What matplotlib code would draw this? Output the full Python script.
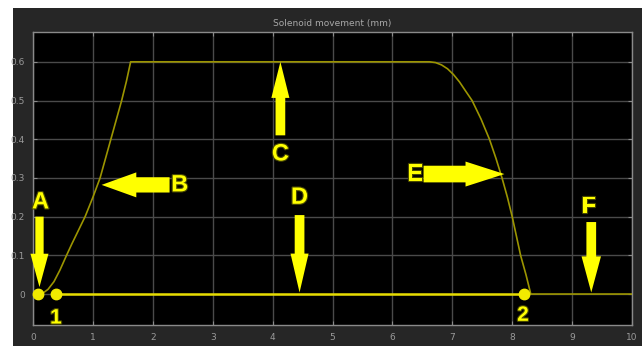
import matplotlib
matplotlib.use("Agg")
import matplotlib.pyplot as plt
from matplotlib.patches import Rectangle
import matplotlib.patheffects as pe

# ---- data ----
curve_x = [0.145, 0.25, 0.35, 0.45, 0.56, 0.65, 0.76, 0.87, 1.0, 1.12, 1.21, 1.30, 1.39, 1.48, 1.56, 1.63,
           6.62, 6.72, 6.82, 6.92, 7.02, 7.12, 7.22, 7.33, 7.48, 7.62, 7.73, 7.83, 7.92, 8.00, 8.07,
           8.14, 8.23, 8.31, 10.0]
curve_y = [0.0, 0.012, 0.032, 0.062, 0.10, 0.13, 0.165, 0.20, 0.25, 0.30, 0.35, 0.40, 0.45, 0.50, 0.55, 0.60,
           0.60, 0.598, 0.592, 0.582, 0.567, 0.548, 0.525, 0.50, 0.452, 0.40, 0.35, 0.30, 0.25, 0.20, 0.15,
           0.10, 0.05, 0.0, 0.0]
bright_x = [0.38, 8.19]
bright_y = [0.0, 0.0]
dot_x = [0.09, 0.38, 8.19]
dot_y = [0.0, 0.0, 0.0]

x_ticks = [0, 1, 2, 3, 4, 5, 6, 7, 8, 9, 10]
y_ticks = [0, 0.1, 0.2, 0.3, 0.4, 0.5, 0.6]
y_tick_labels = ["0", "0.1", "0.2", "0.3", "0.4", "0.5", "0.6"]

# annotations: label, text position, arrow tail, arrow tip
labels = ["A", "B", "C", "D", "E", "F"]
label_pos = [(0.125, 0.238), (2.45, 0.282), (4.13, 0.362), (4.45, 0.25), (6.38, 0.31), (9.28, 0.226)]
arrow_tail = [(0.108, 0.20), (2.28, 0.282), (4.13, 0.41), (4.45, 0.204), (6.52, 0.31), (9.32, 0.186)]
arrow_tip = [(0.108, 0.018), (1.145, 0.282), (4.13, 0.60), (4.45, 0.004), (7.87, 0.31), (9.32, 0.004)]
arrow_dims = [(24, 13, 6), (25, 18, 11), (26, 13, 7), (28, 13, 7), (28, 18, 12), (26, 14, 7)]  # head_len, head_w, tail_w (pt)
num_labels = ["1", "2"]
num_pos = [(0.383, -0.062), (8.18, -0.055)]

title = "Solenoid movement (mm)"

W, H = 642, 346
fig = plt.figure(figsize=(W / 100, H / 100), dpi=100, facecolor="white")
fig.patches.append(Rectangle((13 / W, 0), 1 - 13 / W, 1 - 8 / H, transform=fig.transFigure,
                             facecolor="#262626", edgecolor="none", zorder=-10))

ax = fig.add_axes([33 / W, 21 / H, 599 / W, 293 / H])
ax.set_zorder(1)
ax.set_facecolor("black")
ax.set_xlim(0, 10)
ax.set_ylim(-0.08, 0.677)
ax.set_xticks(x_ticks)
ax.set_xticklabels([str(t) for t in x_ticks])
ax.set_yticks(y_ticks)
ax.set_yticklabels(y_tick_labels)
ax.grid(True, color="#4a4a4a", lw=1.0)
ax.set_axisbelow(True)
for s in ax.spines.values():
    s.set_color("#8a8a8a")
    s.set_linewidth(1.0)
ax.tick_params(colors="#8a8a8a", labelcolor="#9a9a9a", labelsize=6.5, direction="in",
               length=3, top=True, right=True, pad=6)
ax.set_title(title, color="#a8a8a8", fontsize=6.5, pad=4)

ax.plot(curve_x, curve_y, color="#9c9500", lw=1.2, zorder=3)
ax.plot(bright_x, bright_y, color="#e6dc00", lw=1.8, zorder=4)
ax.plot(dot_x, dot_y, "o", color="#f2ea00", ms=7.5, zorder=5, clip_on=False)

stroke = [pe.withStroke(linewidth=1.6, foreground="#4a4a00")]
for lab, pos, tail, tip, dims in zip(labels, label_pos, arrow_tail, arrow_tip, arrow_dims):
    hl, hw, tw = dims
    ax.annotate("", xy=tip, xytext=tail,
                arrowprops=dict(arrowstyle=f"simple,head_length={hl},head_width={hw},tail_width={tw}",
                                mutation_scale=1, color="#ffff00", shrinkA=0, shrinkB=0, lw=0),
                zorder=6)
    ax.text(pos[0], pos[1], lab, color="#ffff00", fontsize=17, fontweight="bold",
            family="Liberation Sans", ha="center", va="center", path_effects=stroke, zorder=7)

for lab, pos in zip(num_labels, num_pos):
    ax.text(pos[0], pos[1], lab, color="#ffff00", fontsize=15, fontweight="bold",
            family="Liberation Sans", ha="center", va="center", path_effects=stroke, zorder=7,
            clip_on=False)

fig.savefig("out.png", dpi=100, facecolor=fig.get_facecolor())
